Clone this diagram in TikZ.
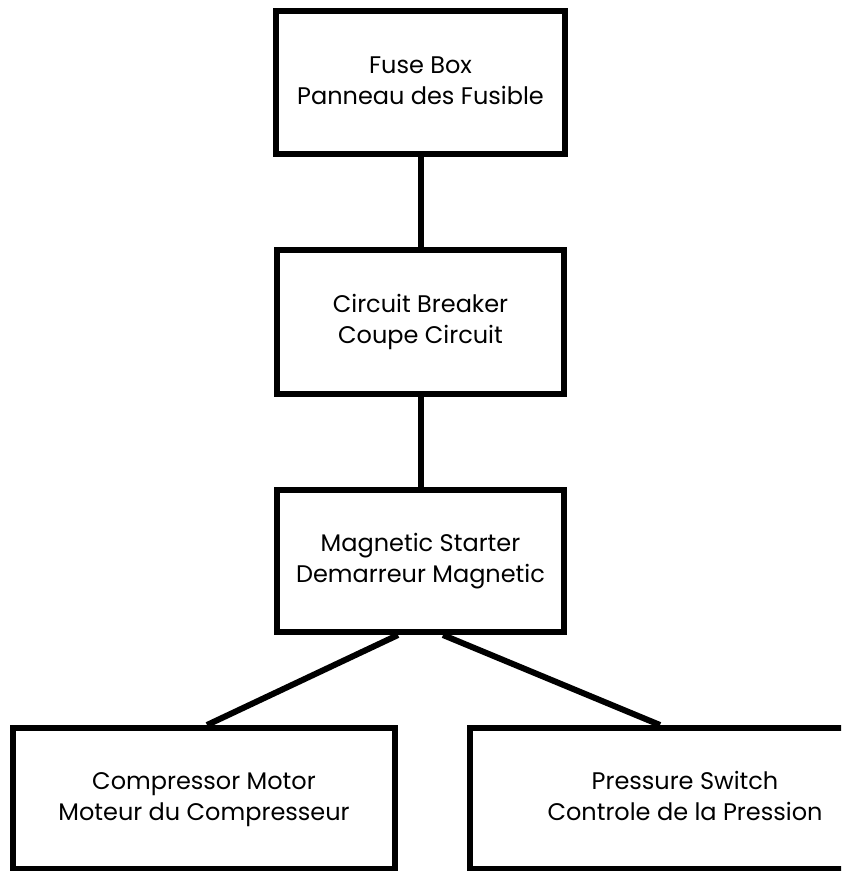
\documentclass[tikz,border=0pt]{standalone}
\usepackage{fontspec}
\setmainfont{Poppins}
\usetikzlibrary{calc}
\usetikzlibrary{positioning}
\newcommand{\partbox}[5]{\node[unit, minimum width=#3, minimum height=#4] (#1) at #2 {\strut#5\strut};}

\begin{document}
\begin{tikzpicture}[x=0.5pt, y=-0.5pt,
        unit/.style={draw, line width=3pt, align=center, inner sep=0pt,
                     font=\fontsize{12}{15.5}\selectfont},
        wire/.style={line width=3pt}]
        \useasboundingbox (0,0) rectangle (841,871);
        \clip (0,0) rectangle (841,871);
        % boxes
        \partbox{fuse}{(420.5,82.5)}{144.5pt}{71.5pt}{Fuse Box\\Panneau des Fusible}
        \partbox{breaker}{(420.5,322)}{143.5pt}{72pt}{Circuit Breaker\\Coupe Circuit}
        \partbox{starter}{(420.5,561)}{143.5pt}{71pt}{Magnetic Starter\\Demarreur Magnetic}
        \partbox{motor}{(204,798.5)}{191pt}{70.5pt}{Compressor Motor\\Moteur du Compresseur}
        \partbox{switch}{(685,798.5)}{215pt}{70.5pt}{Pressure Switch\\Controle de la Pression}
        % wires
        \draw[wire] (fuse.south) -- (breaker.north);
        \draw[wire] (breaker.south) -- (starter.north);
        \draw[wire] ($(starter.south)+(-22.5,0)$) -- ($(motor.north)+(3,0)$);
        \draw[wire] ($(starter.south)+(22.5,0)$) -- ($(switch.north)+(-25,0)$);
    \end{tikzpicture}
\end{document}
